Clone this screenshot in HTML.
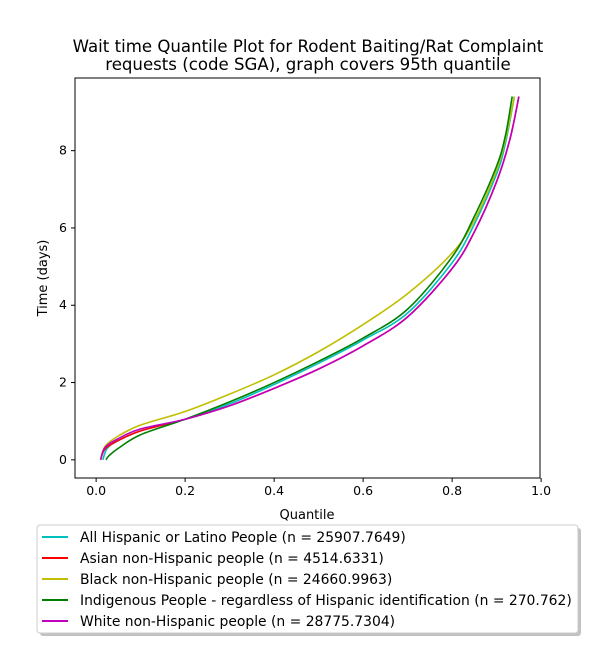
<!DOCTYPE html>
<html><head><meta charset="utf-8"><style>
body{margin:0;background:#fff;font-family:"Liberation Sans","DejaVu Sans",sans-serif}
svg text{font-family:"DejaVu Sans","Liberation Sans",sans-serif}
</style></head><body>
<svg id="chart" width="600" height="650" viewBox="0 0 600 650">
<text x="308" y="52" text-anchor="middle" font-size="16.6">Wait time Quantile Plot for Rodent Baiting/Rat Complaint</text>
<text x="308" y="70" text-anchor="middle" font-size="16.6">requests (code SGA), graph covers 95th quantile</text>
<g id="plot"></g>
<text x="307" y="519" text-anchor="middle" font-size="13">Quantile</text>
<text transform="translate(47,278) rotate(-90)" text-anchor="middle" font-size="13">Time (days)</text>
<g>
<rect x="40" y="528" width="541" height="108" fill="#999" opacity="0.6" rx="3"/>
<rect x="37" y="525" width="541" height="108" fill="#fff" stroke="#ccc" rx="3"/>
<g id="legend-items"></g>
</g>
</svg>
<script>
const categories=["All Hispanic or Latino People (n = 25907.7649)","Asian non-Hispanic people (n = 4514.6331)","Black non-Hispanic people (n = 24660.9963)","Indigenous People - regardless of Hispanic identification (n = 270.762)","White non-Hispanic people (n = 28775.7304)"];
const colors=["#00bfbf","#ff0000","#bfbf00","#008000","#bf00bf"];
const qHisp=[0.015,0.025,0.05,0.1,0.2,0.3,0.4,0.5,0.6,0.7,0.8,0.85,0.9,0.92,0.94];
const tHisp=[0,0.3,0.5,0.75,1.05,1.45,1.95,2.5,3.1,3.8,5.1,6.1,7.4,8.2,9.4];
const qAsian=[0.01,0.02,0.05,0.1,0.2,0.3,0.4,0.5,0.6,0.7,0.8,0.85,0.9,0.93,0.95];
const tAsian=[0,0.28,0.5,0.75,1.05,1.4,1.85,2.35,2.95,3.7,4.95,5.9,7.2,8.3,9.4];
const qBlack=[0.01,0.02,0.05,0.1,0.2,0.3,0.4,0.5,0.6,0.7,0.8,0.85,0.9,0.92,0.94];
const tBlack=[0,0.35,0.62,0.9,1.25,1.7,2.2,2.8,3.5,4.3,5.35,6.2,7.5,8.3,9.4];
const qIndig=[0.022,0.03,0.05,0.1,0.2,0.3,0.4,0.5,0.6,0.7,0.8,0.85,0.9,0.92,0.935];
const tIndig=[0,0.12,0.3,0.65,1.05,1.5,2.0,2.55,3.15,3.9,5.25,6.3,7.6,8.4,9.4];
const qWhite=[0.01,0.02,0.05,0.1,0.2,0.3,0.4,0.5,0.6,0.7,0.8,0.85,0.9,0.93,0.95];
const tWhite=[0,0.32,0.55,0.8,1.05,1.4,1.85,2.35,2.95,3.7,4.95,5.9,7.2,8.3,9.4];
const xTicks=[0.0,0.2,0.4,0.6,0.8,1.0];
const yTicks=[0,2,4,6,8];
const series=[[qHisp,tHisp],[qAsian,tAsian],[qBlack,tBlack],[qIndig,tIndig],[qWhite,tWhite]];
const X0=75,X1=540,Y0=78,Y1=478,xmin=-0.0475,xmax=0.9975,ymin=-0.47,ymax=9.88;
const xs=v=>X0+(v-xmin)/(xmax-xmin)*(X1-X0);
const ys=v=>Y1-(v-ymin)/(ymax-ymin)*(Y1-Y0);
const NS="http://www.w3.org/2000/svg";
const plot=document.getElementById('plot');
function mk(t,a,p){const e=document.createElementNS(NS,t);for(const k in a)e.setAttribute(k,a[k]);p.appendChild(e);return e;}
function pathD(pts){let d=`M${pts[0][0]},${pts[0][1]}`;for(let i=0;i<pts.length-1;i++){const p0=pts[i-1]||pts[i],p1=pts[i],p2=pts[i+1],p3=pts[i+2]||p2;d+=` C${p1[0]+(p2[0]-p0[0])/6},${p1[1]+(p2[1]-p0[1])/6} ${p2[0]-(p3[0]-p1[0])/6},${p2[1]-(p3[1]-p1[1])/6} ${p2[0]},${p2[1]}`;}return d;}
series.forEach((s,i)=>{const pts=s[0].map((q,j)=>[xs(q),ys(s[1][j])]);
const p=mk('path',{d:pathD(pts),fill:'none',stroke:colors[i],'stroke-width':1.6},plot);

});
const frame=mk('rect',{x:X0,y:Y0,width:X1-X0,height:Y1-Y0,fill:'none',stroke:'#000','stroke-width':1},plot);


xTicks.forEach(v=>{const x=xs(v);mk('line',{x1:x,x2:x,y1:Y1,y2:Y1+4,stroke:'#000'},plot);
const t=mk('text',{x:x,y:Y1+17,'text-anchor':'middle','font-size':12.5},plot);t.textContent=v.toFixed(1);

});
yTicks.forEach(v=>{const y=ys(v);mk('line',{x1:X0-4,x2:X0,y1:y,y2:y,stroke:'#000'},plot);
const t=mk('text',{x:X0-8,y:y+4,'text-anchor':'end','font-size':12.5},plot);t.textContent=v;

});
const lg=document.getElementById('legend-items');
categories.forEach((c,i)=>{const y=537+i*21;
mk('line',{x1:42,x2:68,y1:y,y2:y,stroke:colors[i],'stroke-width':2},lg);
const t=mk('text',{x:80,y:y+5,'font-size':13.9},lg);t.textContent=c;

});
</script>
</body></html>
